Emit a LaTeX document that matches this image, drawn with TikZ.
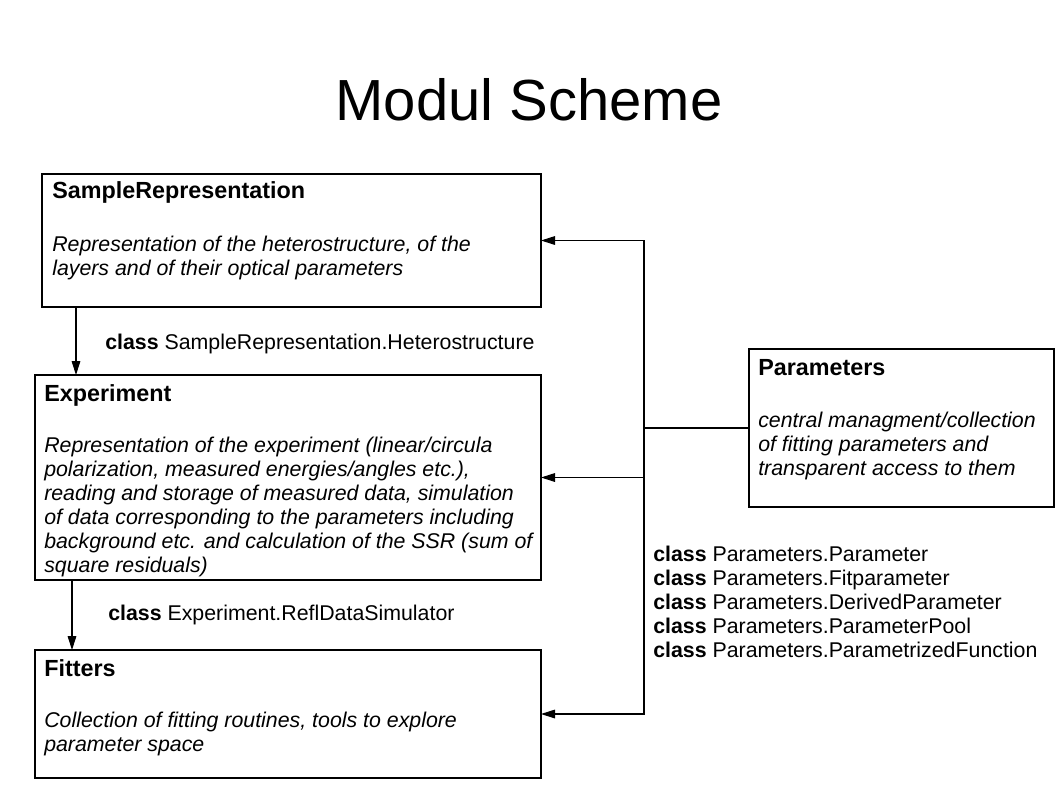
\documentclass[tikz,border=0pt]{standalone}
\usepackage{fontspec}
\setmainfont{Liberation Sans}
\usetikzlibrary{
  positioning,
  fit,
  arrows.meta
}

\begin{document}
\begin{tikzpicture}[
    x=0.75pt,y=-0.75pt,
    boxNode/.style={draw,inner sep=0pt,outer sep=0pt,line width=0.8pt},
    headNode/.style={anchor=base west,inner sep=0pt,font=\fontsize{17.5}{18}\selectfont\bfseries},
    textNode/.style={anchor=base west,inner sep=0pt,align=left,font=\fontsize{16}{18}\selectfont\itshape},
    classNode/.style={anchor=base west,inner sep=0pt,align=left,font=\fontsize{16}{18}\selectfont},
    uses/.style={-{Triangle[length=10.5pt,width=6.5pt]},line width=0.8pt}
  ]
    \useasboundingbox (0,0) rectangle (1058,794);
    \node[anchor=base,inner sep=0pt,font=\fontsize{43.5}{52}\selectfont] (title) at (529,120) {Modul Scheme};

    % module boxes
    \node[boxNode,fit={(42,174) (541,307)}] (sample) {};
    \node[boxNode,fit={(35,375) (541,580)}] (experiment) {};
    \node[boxNode,fit={(35,650) (541,778)}] (fitters) {};
    \node[boxNode,fit={(749,349) (1054,507)}] (params) {};

    % box texts (multi-line texts sit on their last baseline)
    \node[headNode] (sampleHead) at ([shift={(10,24)}]sample.north west) {SampleRepresentation};
    \node[textNode] (sampleText) at ([shift={(10,101)}]sample.north west)
      {Representation of the heterostructure, of the\\layers and of their optical parameters};
    \node[headNode] (experimentHead) at ([shift={(9,26)}]experiment.north west) {Experiment};
    \node[textNode] (experimentText) at ([shift={(9,197)}]experiment.north west)
      {Representation of the experiment (linear/circula\\polarization, measured energies/angles etc.),\\reading and storage of measured data, simulation\\of data corresponding to the parameters including\\background etc. and calculation of the SSR (sum of\\square residuals)};
    \node[headNode] (fittersHead) at ([shift={(9,26)}]fitters.north west) {Fitters};
    \node[textNode] (fittersText) at ([shift={(9,101)}]fitters.north west)
      {Collection of fitting routines, tools to explore\\parameter space};
    \node[headNode] (paramsHead) at ([shift={(9,26)}]params.north west) {Parameters};
    \node[textNode] (paramsText) at ([shift={(9,126)}]params.north west)
      {central managment/collection\\of fitting parameters and\\transparent access to them};

    % class labels
    \node[classNode] (sampleClass) at (105,349) {\textbf{class} SampleRepresentation.Heterostructure};
    \node[classNode] (experimentClass) at (108,620) {\textbf{class} Experiment.ReflDataSimulator};
    \node[classNode] (paramsClass) at (653,657)
      {\textbf{class} Parameters.Parameter\\\textbf{class} Parameters.Fitparameter\\\textbf{class} Parameters.DerivedParameter\\\textbf{class} Parameters.ParameterPool\\\textbf{class} Parameters.ParametrizedFunction};

    % connections
    \coordinate (bus) at (644,428);
    \draw[line width=0.8pt] (params.west) -- (bus);
    \draw[uses] (bus) |- (sample.east);
    \draw[uses] (bus) |- (experiment.east);
    \draw[uses] (bus) |- (fitters.east);
    \draw[uses] ([shift={(34,0)}]sample.south west) coordinate (sampleOut) -- (sampleOut |- experiment.north);
    \draw[uses] ([shift={(37,0)}]experiment.south west) coordinate (experimentOut) -- (experimentOut |- fitters.north);
  \end{tikzpicture}
\end{document}
